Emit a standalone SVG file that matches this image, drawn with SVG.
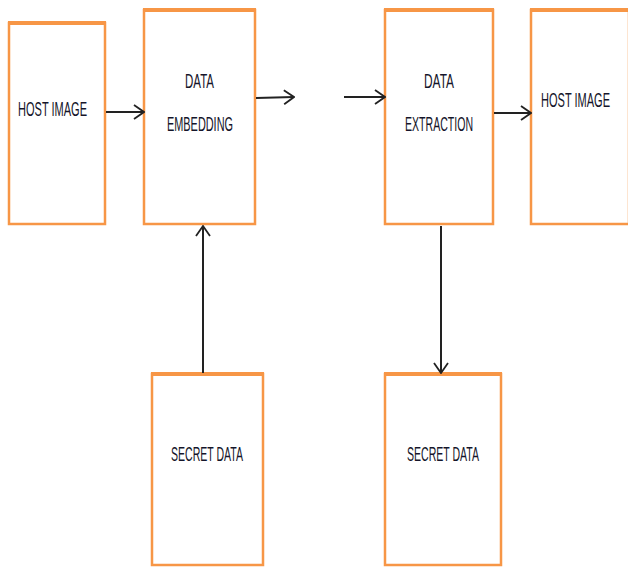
<svg xmlns="http://www.w3.org/2000/svg" width="628" height="567" viewBox="0 0 628 567">
<style>
.box{fill:#fff;stroke:#F79646;stroke-width:2.5}
.top{stroke:#F79646;stroke-width:4}
.lbl{font-family:"Liberation Sans",Arial,sans-serif;font-size:20px;fill:#15152a;text-anchor:start}
.conn{stroke:#222;stroke-width:2;fill:none}
</style>
<defs>
<marker id="arr" markerWidth="12" markerHeight="16" refX="11" refY="8" orient="auto" markerUnits="userSpaceOnUse">
<path d="M1,1 L11,8 L1,15" fill="none" stroke="#222" stroke-width="1.8"/>
</marker>
</defs>
<rect width="628" height="567" fill="#fff"/>
<g id="host1"><rect class="box" x="9" y="23" width="96" height="201"/><line class="top" x1="8" y1="23" x2="106" y2="23"/>
<text class="lbl" x="18" y="116" textLength="69" lengthAdjust="spacingAndGlyphs">HOST IMAGE</text></g>
<g id="embed"><rect class="box" x="144" y="10" width="111" height="214"/><line class="top" x1="143" y1="10" x2="256" y2="10"/>
<text class="lbl" x="185" y="88" textLength="29" lengthAdjust="spacingAndGlyphs">DATA</text>
<text class="lbl" x="167" y="131" textLength="66" lengthAdjust="spacingAndGlyphs">EMBEDDING</text></g>
<g id="extract"><rect class="box" x="385" y="10" width="108" height="214"/><line class="top" x1="384" y1="10" x2="494" y2="10"/>
<text class="lbl" x="424" y="88" textLength="30" lengthAdjust="spacingAndGlyphs">DATA</text>
<text class="lbl" x="405" y="131" textLength="68" lengthAdjust="spacingAndGlyphs">EXTRACTION</text></g>
<g id="host2"><rect class="box" x="531" y="10" width="98" height="214"/><line class="top" x1="530" y1="10" x2="628" y2="10"/>
<text class="lbl" x="541" y="107" textLength="69" lengthAdjust="spacingAndGlyphs">HOST IMAGE</text></g>
<g id="secret1"><rect class="box" x="152" y="374" width="111" height="191"/><line class="top" x1="151" y1="374" x2="264" y2="374"/>
<text class="lbl" x="171" y="461" textLength="72" lengthAdjust="spacingAndGlyphs">SECRET DATA</text></g>
<g id="secret2"><rect class="box" x="385" y="374" width="116" height="191"/><line class="top" x1="384" y1="374" x2="502" y2="374"/>
<text class="lbl" x="407" y="461" textLength="72" lengthAdjust="spacingAndGlyphs">SECRET DATA</text></g>
<g id="connectors">
<line class="conn" x1="106" y1="112" x2="144" y2="112" marker-end="url(#arr)"/>
<line class="conn" x1="256" y1="98" x2="294" y2="97" marker-end="url(#arr)"/>
<line class="conn" x1="344" y1="97" x2="385" y2="97" marker-end="url(#arr)"/>
<line class="conn" x1="494" y1="113" x2="531" y2="113" marker-end="url(#arr)"/>
<line class="conn" x1="203" y1="373" x2="203" y2="226" marker-end="url(#arr)"/>
<line class="conn" x1="441" y1="226" x2="441" y2="373" marker-end="url(#arr)"/>
</g>
</svg>
